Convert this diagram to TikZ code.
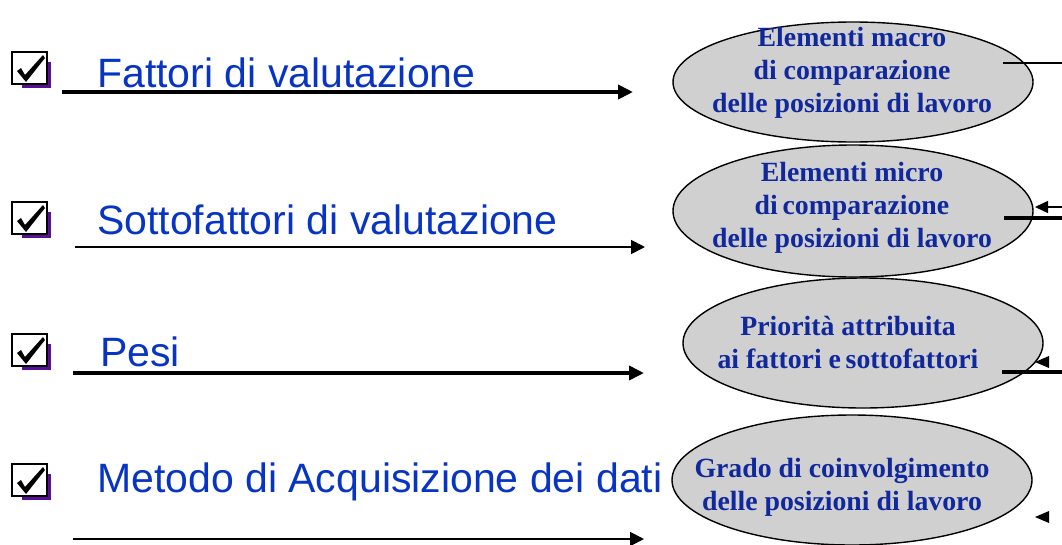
\documentclass[tikz,border=0pt]{standalone}
\usepackage{fontspec}
\setmainfont{Liberation Serif}
\newfontfamily\arialfont{Liberation Sans}
\usetikzlibrary{shapes.geometric,arrows.meta}
\definecolor{leftblue}{RGB}{8,52,196}
\definecolor{ellblue}{RGB}{16,40,156}
\definecolor{ellfill}{RGB}{208,208,208}
\definecolor{shadowpurple}{RGB}{88,14,150}
\tikzset{
  oval/.style={ellipse, draw=black, line width=1.4pt, fill=ellfill, inner sep=0pt, minimum width=360pt, minimum height=#1},
  ovaltext/.style={align=center, inner sep=0pt, text=ellblue, font=\fontsize{27.8}{33}\selectfont\bfseries},
  lefttext/.style={anchor=base west, inner sep=0pt, text=leftblue, font=\arialfont\fontsize{41}{48}\selectfont},
  thickarrow/.style={line width=4pt, -{Triangle[length=15pt, width=14pt]}},
  thinarrow/.style={line width=1.8pt, -{Triangle[length=14pt, width=14pt]}},
  thinline/.style={line width=1.5pt},
  thickline/.style={line width=3.5pt},
  chkbox/.pic={
    \fill[shadowpurple] (10,10) rectangle (39,36);
    \draw[line width=2.4pt, fill=white] (0,0) rectangle (35,32);
    \fill[black] (5,19) -- (9,16) -- (13,23) -- (31,3) -- (33,6) -- (14,30) -- cycle;
  }
}
\begin{document}
\begin{tikzpicture}[x=1pt,y=-1pt]
\useasboundingbox (0,0) rectangle (1062,544);

% checkboxes
\pic (c1) at (12,52) {chkbox};
\pic (c2) at (12,202) {chkbox};
\pic (c3) at (12,334) {chkbox};
\pic (c4) at (12,464) {chkbox};

% left texts
\node[lefttext] (t1) at (97,87) {Fattori di valutazione};
\node[lefttext] (t2) at (97,234) {Sottofattori di valutazione};
\node[lefttext] (t3) at (100,366) {Pesi};
\node[lefttext] (t4) at (97,492) {Metodo di Acquisizione dei dati};

% ellipses
\node[oval=120pt] (e1) at (853,82) {};
\node[oval=132pt] (e2) at (853,211) {};
\node[oval=130pt] (e3) at (863,343) {};
\node[oval=130pt] (e4) at (852,480) {};

% ellipse texts (anchored at the baseline of the last line)
\node[ovaltext, anchor=base] (l1) at (852,112) {Elementi macro\\di comparazione\\delle posizioni di lavoro};
\node[ovaltext, anchor=base] (l2) at (852,247) {Elementi micro\\di\,comparazione\\delle posizioni di lavoro};
\node[ovaltext, anchor=base] (l3) at (848,368) {Priorità attribuita\\ai fattori e\,sottofattori};
\node[ovaltext, anchor=base] (l4) at (842,510) {Grado di coinvolgimento\\delle posizioni di lavoro};

% left arrows
\coordinate (a1s) at (62,92);  \coordinate (a1e) at (633,92);
\coordinate (a2s) at (75,247); \coordinate (a2e) at (645,247);
\coordinate (a3s) at (73,373); \coordinate (a3e) at (644,373);
\coordinate (a4s) at (73,539); \coordinate (a4e) at (644,539);
\draw[thickarrow] (a1s) -- (a1e);
\draw[thinarrow] (a2s) -- (a2e);
\draw[thickarrow] (a3s) -- (a3e);
\draw[thinarrow] (a4s) -- (a4e);

% right-side fragments
\coordinate (r1s) at (1003,63); \coordinate (r1e) at (1062,63);
\draw[thinline] (r1s) -- (r1e);
\coordinate (r2s) at (1004,218); \coordinate (r2e) at (1062,218);
\draw[thickline] (r2s) -- (r2e);
\coordinate (r2a) at (1062,207); \coordinate (r2t) at (1035,207);
\draw[line width=1.4pt, -{Triangle[length=13pt, width=12pt]}] (r2a) -- (r2t);
\coordinate (r3s) at (1002,372); \coordinate (r3e) at (1062,372);
\draw[thickline] (r3s) -- (r3e);
\fill (1035,362) -- (1049,356) -- (1049,368) -- cycle;
\fill (1035,517) -- (1049,511) -- (1049,523) -- cycle;
\end{tikzpicture}
\end{document}
